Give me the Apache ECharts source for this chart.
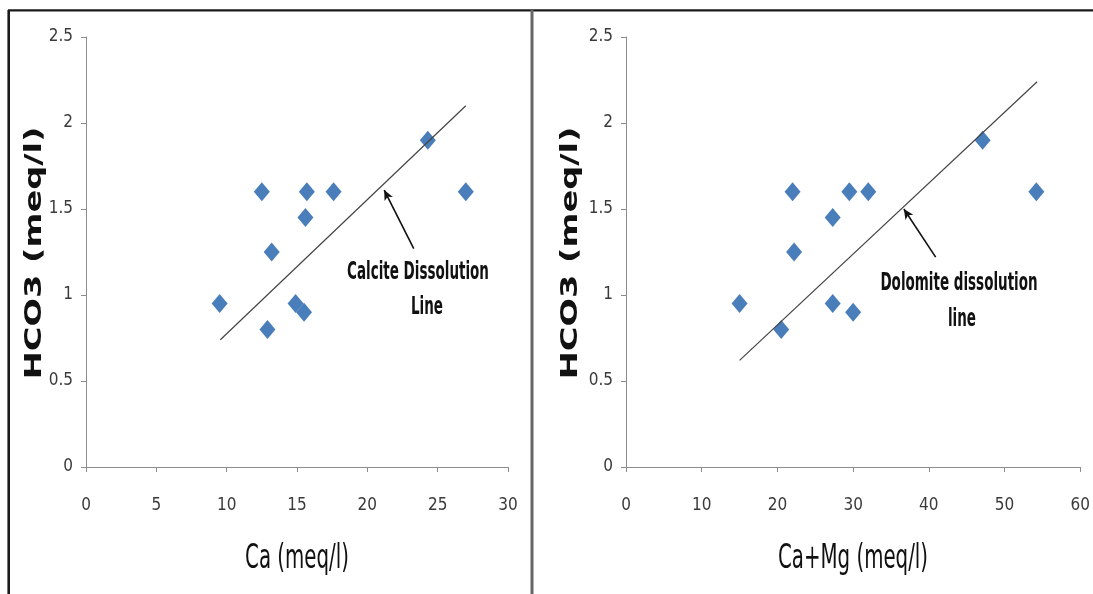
<!DOCTYPE html>
<html>
<head>
<meta charset="utf-8">
<script src="https://cdn.jsdelivr.net/npm/echarts@6/dist/echarts.min.js"></script>
<style>
  html, body { margin: 0; padding: 0; background: #fff; }
  #chart { width: 1093px; height: 594px; }
</style>
</head>
<body>
<div id="chart"></div>
<script>
// HCO3 per sample (same samples on both panels)
const hco3 = [0.95, 0.8, 1.6, 1.25, 1.45, 0.95, 0.9, 1.6, 1.6, 1.9, 1.6];
const ca = [9.5, 12.9, 12.5, 13.2, 15.6, 14.9, 15.5, 15.7, 17.6, 24.3, 27];
const caMg = [15, 20.5, 22, 22.2, 27.3, 27.3, 30, 29.5, 32, 47.1, 54.2];

// dissolution lines (end points)
const calciteLine = [[9.55, 0.74], [27, 2.1]];
const dolomiteLine = [[15, 0.62], [54.3, 2.24]];

// annotation arrows (tail -> tip)
const calciteArrow = [[23.3, 1.27], [21.2, 1.61]];
const dolomiteArrow = [[40.9, 1.22], [36.7, 1.5]];

const yTicks = { min: 0, max: 2.5, interval: 0.5 };
const caTicks = { min: 0, max: 30, interval: 5 };
const caMgTicks = { min: 0, max: 60, interval: 10 };

const narrow = "'Liberation Sans Narrow', 'DejaVu Sans Condensed', sans-serif";
const blue = "#4A7EBB";

const chart = echarts.init(document.getElementById("chart"));

const axisCommon = {
  type: "value",
  axisLine: { show: true, lineStyle: { color: "#8c8c8c", width: 1 } },
  axisTick: { show: true, length: 5, lineStyle: { color: "#8c8c8c" } },
  splitLine: { show: false },
  axisLabel: { color: "#3a3a3a", fontFamily: narrow, fontSize: 17 }
};

function xAxis(idx, ticks) {
  return Object.assign({}, axisCommon, ticks, {
    gridIndex: idx,
    axisLabel: Object.assign({}, axisCommon.axisLabel, { margin: 30 })
  });
}
function yAxis(idx) {
  return Object.assign({}, axisCommon, yTicks, {
    gridIndex: idx,
    axisLabel: Object.assign({}, axisCommon.axisLabel, { margin: 13 })
  });
}

function arrowLine(arr) {
  return {
    silent: true,
    symbol: ["none", "arrow"],
    symbolSize: [7, 10],
    label: { show: false },
    lineStyle: { color: "#111", width: 1.6, type: "solid" },
    data: [[{ coord: arr[0] }, { coord: arr[1] }]]
  };
}

// 文字（纵向拉伸，接近原图的比例）
function label(text, x, y, font, opt) {
  return Object.assign({
    type: "text",
    x: x,
    y: y,
    scaleY: 1.6,
    style: {
      text: text,
      fill: "#111",
      font: font,
      align: "center",
      verticalAlign: "middle",
      textAlign: "center",
      textVerticalAlign: "middle"
    }
  }, opt || {});
}

const noteFont = "bold 15px " + narrow;
const nameFont = "22px " + narrow;
const yNameFont = "bold 23px 'DejaVu Sans', sans-serif";

const option = {
  backgroundColor: "#fff",
  animation: false,
  grid: [
    { left: 86, right: 585, top: 37, bottom: 127 },
    { left: 626, right: 11, top: 37, bottom: 127 }
  ],
  xAxis: [xAxis(0, caTicks), xAxis(1, caMgTicks)],
  yAxis: [yAxis(0), yAxis(1)],
  series: [
    {
      type: "scatter",
      xAxisIndex: 0,
      yAxisIndex: 0,
      symbol: "diamond",
      symbolSize: [16, 19],
      itemStyle: { color: blue, opacity: 1 },
      data: ca.map((v, i) => [v, hco3[i]])
    },
    {
      type: "line",
      xAxisIndex: 0,
      yAxisIndex: 0,
      showSymbol: false,
      lineStyle: { color: "#444", width: 1.2 },
      data: calciteLine,
      markLine: arrowLine(calciteArrow)
    },
    {
      type: "scatter",
      xAxisIndex: 1,
      yAxisIndex: 1,
      symbol: "diamond",
      symbolSize: [16, 19],
      itemStyle: { color: blue, opacity: 1 },
      data: caMg.map((v, i) => [v, hco3[i]])
    },
    {
      type: "line",
      xAxisIndex: 1,
      yAxisIndex: 1,
      showSymbol: false,
      lineStyle: { color: "#444", width: 1.2 },
      data: dolomiteLine,
      markLine: arrowLine(dolomiteArrow)
    }
  ],
  graphic: [
    // frame
    { type: "line", shape: { x1: 8.7, y1: 10, x2: 8.7, y2: 594 }, style: { stroke: "#1a1a1a", lineWidth: 2.6 } },
    { type: "line", shape: { x1: 8, y1: 10.3, x2: 1093, y2: 10.3 }, style: { stroke: "#1a1a1a", lineWidth: 2.2 } },
    { type: "line", shape: { x1: 532, y1: 10, x2: 532, y2: 594 }, style: { stroke: "#666", lineWidth: 3 } },

    // annotations
    label("Calcite Dissolution", 418, 273, noteFont),
    label("Line", 427, 308, noteFont),
    label("Dolomite dissolution", 959, 284, noteFont),
    label("line", 962, 320, noteFont),

    // axis names
    label("Ca (meq/l)", 297, 559, nameFont, { scaleY: 1.55 }),
    label("Ca+Mg (meq/l)", 853, 559, nameFont, { scaleY: 1.55 }),
    label("HCO3 (meq/l)", 35, 253, yNameFont, { rotation: Math.PI / 2, scaleY: 1, scaleX: 1.46 }),
    label("HCO3 (meq/l)", 571, 253, yNameFont, { rotation: Math.PI / 2, scaleY: 1, scaleX: 1.46 })
  ]
};

chart.setOption(option);
</script>
</body>
</html>
